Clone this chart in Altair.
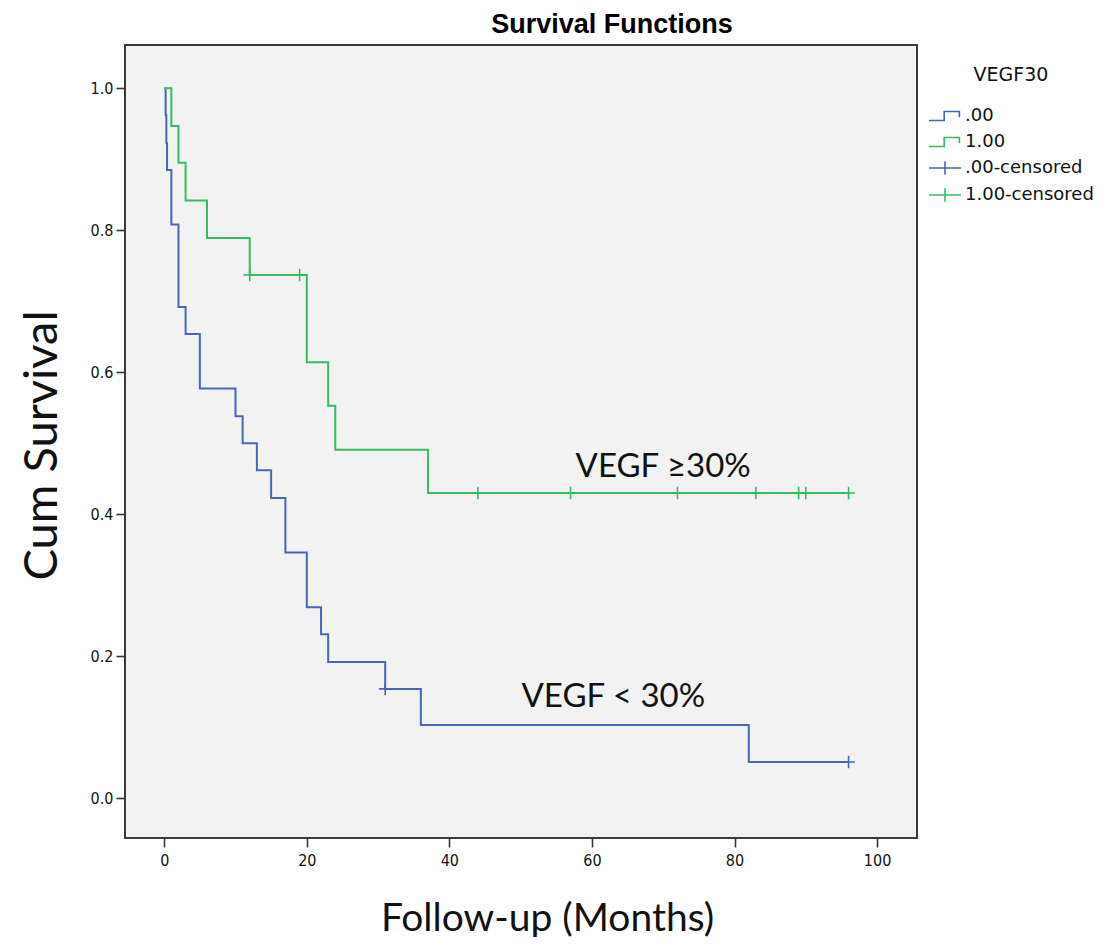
import altair as alt
import pandas as pd

# ---- data (Kaplan-Meier estimates) ----
# group ".00"  (VEGF < 30%)
g0_time = [0, 0.2, 0.3, 0.4, 1, 2, 3, 5, 10, 11, 13, 15, 17, 20, 22, 23, 31, 36, 82, 96]
g0_surv = [1.0, 0.962, 0.923, 0.885, 0.808, 0.692, 0.654, 0.577, 0.538, 0.500,
           0.462, 0.423, 0.346, 0.269, 0.231, 0.192, 0.154, 0.103, 0.051, 0.051]
g0_cens_time = [31, 96]
g0_cens_surv = [0.154, 0.051]

# group "1.00" (VEGF >= 30%)
g1_time = [0, 1, 2, 3, 6, 12, 20, 23, 24, 37, 96]
g1_surv = [1.0, 0.947, 0.895, 0.842, 0.789, 0.737, 0.614, 0.553, 0.491, 0.430, 0.430]
g1_cens_time = [12, 19, 44, 57, 72, 83, 89, 90, 96]
g1_cens_surv = [0.737, 0.737, 0.430, 0.430, 0.430, 0.430, 0.430, 0.430, 0.430]

entries = [".00", "1.00", ".00-censored", "1.00-censored"]
x_ticks = [0, 20, 40, 60, 80, 100]
y_ticks = [0.0, 0.2, 0.4, 0.6, 0.8, 1.0]

ann_text = ["VEGF \u226530%", "VEGF < 30%"]
ann_time = [70, 63]
ann_surv = [0.466, 0.142]

BLUE = "#4666b6"
GREEN = "#37bd60"
PLUS = "M-1,0L1,0M0,-1L0,1"
LEG_PLUS = "M-1,0L1,0M0,-0.42L0,0.42"
LEG_STEP = "M-1,0.28L-0.05,0.28L-0.05,-0.28L0.9,-0.28L0.9,0.08"

lines_df = pd.concat([
    pd.DataFrame({"time": g0_time, "surv": g0_surv, "entry": entries[0]}),
    pd.DataFrame({"time": g1_time, "surv": g1_surv, "entry": entries[1]}),
], ignore_index=True)
cens_df = pd.concat([
    pd.DataFrame({"time": g0_cens_time, "surv": g0_cens_surv, "entry": entries[2]}),
    pd.DataFrame({"time": g1_cens_time, "surv": g1_cens_surv, "entry": entries[3]}),
], ignore_index=True)
ann_df = pd.DataFrame({"label": ann_text, "time": ann_time, "surv": ann_surv})

color_scale = alt.Scale(domain=entries, range=[BLUE, GREEN, BLUE, GREEN])
LABEL_FONT = "Liberation Sans Narrow, DejaVu Sans Condensed, sans-serif"

x_enc = alt.X(
    "time:Q",
    scale=alt.Scale(domain=[-5.5, 105.6], nice=False, zero=False),
    axis=alt.Axis(values=x_ticks, title="Follow-up (Months)", grid=False, domain=False,
                  tickSize=9, tickWidth=1.6, tickColor="#333", labelPadding=5,
                  labelFont=LABEL_FONT, labelFontSize=16, labelColor="#111",
                  titleFont="Lato", titleFontSize=39, titleFontWeight="normal",
                  titleColor="#111", titleX=422, titleY=92, titleBaseline="alphabetic"),
)
y_enc = alt.Y(
    "surv:Q",
    scale=alt.Scale(domain=[-0.056, 1.061], nice=False, zero=False),
    axis=alt.Axis(values=y_ticks, format=".1f", title="Cum Survival", grid=False, domain=False,
                  tickSize=9, tickWidth=1.6, tickColor="#333", labelPadding=3,
                  labelFont=LABEL_FONT, labelFontSize=16, labelColor="#111",
                  titleFont="Lato", titleFontSize=47, titleFontWeight="normal",
                  titleColor="#111", titleX=-69, titleY=400, titleAngle=270,
                  titleBaseline="alphabetic"),
)

lines = alt.Chart(lines_df).mark_line(interpolate="step-after", strokeWidth=2).encode(
    x=x_enc, y=y_enc,
    color=alt.Color("entry:N", scale=color_scale, legend=None),
)

points = alt.Chart(cens_df).mark_point(
    shape=PLUS, filled=False, size=160, strokeWidth=1.6, opacity=1
).encode(
    x="time:Q", y="surv:Q",
    color=alt.Color("entry:N", scale=color_scale, legend=None),
)

legend_layer = alt.Chart(cens_df).transform_filter("false").mark_point(
    filled=False, strokeWidth=1.6, opacity=1
).encode(
    x="time:Q", y="surv:Q",
    color=alt.Color("entry:N", scale=color_scale, title="VEGF30"),
    shape=alt.Shape("entry:N", title="VEGF30",
                    scale=alt.Scale(domain=entries,
                                    range=[LEG_STEP, LEG_STEP, LEG_PLUS, LEG_PLUS])),
)

texts = alt.Chart(ann_df).mark_text(
    font="Lato", fontSize=33, color="#111", baseline="middle", align="center"
).encode(x="time:Q", y="surv:Q", text="label:N")

chart = alt.layer(lines, points, legend_layer, texts).resolve_legend(
    color="independent", shape="independent"
).properties(
    width=792, height=793,
    autosize=alt.AutoSizeParams(type="none"),
    padding={"left": 117, "top": 37, "right": 182, "bottom": 99},
    title=alt.TitleParams("Survival Functions", font="Liberation Sans", fontSize=27,
                          fontWeight="bold", color="#000", dx=91, offset=6),
).configure_view(
    fill="#f2f2f2", stroke="#3a3a3a", strokeWidth=2
).configure_legend(
    orient="none", legendX=803, legendY=21,
    titleFont="DejaVu Sans", titleFontSize=19, titleFontWeight="normal", titleColor="#111",
    titleAnchor="middle", titlePadding=14,
    labelFont="DejaVu Sans", labelFontSize=18, labelColor="#111", labelOffset=3,
    symbolSize=1024, symbolStrokeWidth=1.6, rowPadding=0,
)

chart.save("out.html", embed_options={"renderer": "svg", "actions": False})
